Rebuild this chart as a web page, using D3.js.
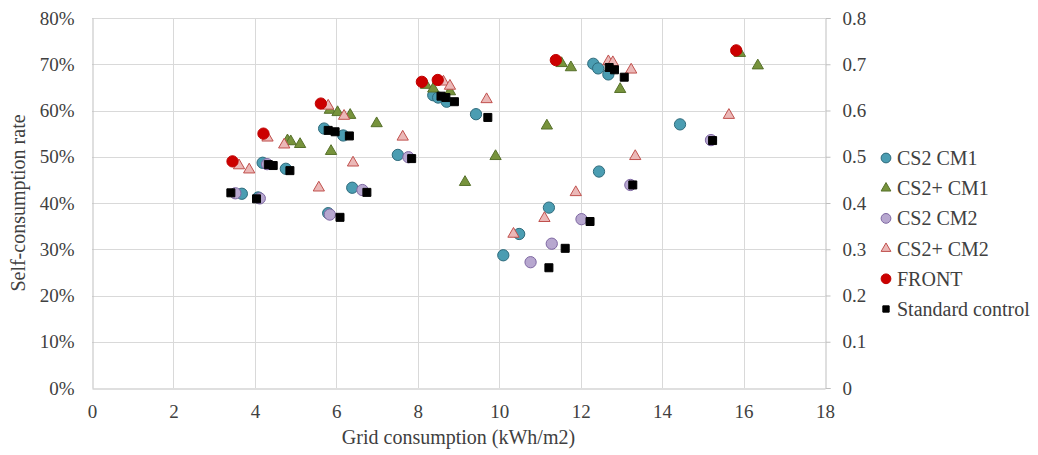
<!DOCTYPE html>
<html lang="en">
<head>
<meta charset="utf-8">
<script src="https://cdn.jsdelivr.net/npm/d3@7/dist/d3.min.js"></script>
<style type="text/css">
body {
	margin: 0;
	background: #fff;
	font-family: "Liberation Serif", "Times New Roman", serif;
}
.grid line {
	stroke: #d9d9d9;
	stroke-width: 1;
}
</style>
</head>
<body>
<script type="text/javascript">

// series values: [grid consumption kWh/m2, self-consumption %]
var cs2cm1 = [[3.68,42.0],[4.08,41.2],[4.19,48.7],[4.76,47.4],[5.70,56.1],[5.80,37.8],[6.17,54.6],
	[6.39,43.3],[7.51,50.4],[8.38,63.3],[8.50,62.8],[8.71,61.9],[9.43,59.2],[10.10,28.7],
	[10.49,33.3],[11.22,39.0],[12.31,70.1],[12.43,69.1],[12.45,46.8],[12.68,67.8],[14.44,57.0]];
var cs2pcm1 = [[4.80,53.5],[4.88,53.3],[5.11,52.7],[5.84,60.1],[5.87,51.2],[6.03,59.6],[6.34,59.0],
	[6.99,57.2],[8.20,65.5],[8.38,64.7],[8.79,64.1],[9.16,44.5],[9.91,50.1],[11.17,56.7],
	[11.53,70.2],[11.76,69.3],[12.97,64.6],[15.91,72.4],[16.35,69.7]];
var cs2cm2 = [[3.52,42.1],[4.12,41.0],[4.30,48.4],[5.84,37.5],[6.64,42.8],[7.77,49.9],[10.77,27.2],
	[11.29,31.2],[12.02,36.5],[13.22,43.9],[15.20,53.6]];
var cs2pcm2 = [[3.61,48.1],[3.86,47.2],[4.31,54.1],[4.72,52.6],[5.57,43.3],[5.80,61.0],[6.19,58.8],
	[6.41,48.7],[7.63,54.3],[8.63,66.2],[8.79,65.3],[9.69,62.4],[10.35,33.3],[11.11,36.7],
	[11.88,42.3],[12.68,70.6],[12.79,70.4],[13.24,68.8],[13.34,50.1],[15.64,59.0]];
var front = [[3.45,49.0],[4.21,55.0],[5.62,61.5],[8.10,66.2],[8.49,66.6],[11.39,70.9],[15.82,73.0]];
var standard = [[3.41,42.2],[4.04,40.9],[4.33,48.3],[4.45,48.1],[4.86,47.0],[5.80,55.7],[5.97,55.4],
	[6.09,36.9],[6.32,54.5],[6.75,42.3],[7.85,49.6],[8.57,63.1],[8.69,62.8],[8.90,61.9],
	[9.72,58.5],[11.22,26.0],[11.62,30.2],[12.23,36.0],[12.70,69.3],[12.83,68.8],[13.07,67.2],
	[13.28,43.9],[15.24,53.5]];

var seriesNames = ["CS2 CM1", "CS2+ CM1", "CS2 CM2", "CS2+ CM2", "FRONT", "Standard control"];
var seriesData = [cs2cm1, cs2pcm1, cs2cm2, cs2pcm2, front, standard];

var xTicks = [0, 2, 4, 6, 8, 10, 12, 14, 16, 18];
var yTicks = [0, 10, 20, 30, 40, 50, 60, 70, 80];
var xTitle = "Grid consumption (kWh/m2)";
var yTitle = "Self-consumption rate";

// marker styles, one per series
var styles = [
	{shape: d3.symbolCircle,   size: 100, fill: "#4b9db2", stroke: "#2e6b7c"},
	{shape: d3.symbolTriangle, size: 55,  fill: "#77933c", stroke: "#56702a"},
	{shape: d3.symbolCircle,   size: 100, fill: "#b7a7cf", stroke: "#7e67a2"},
	{shape: d3.symbolTriangle, size: 55,  fill: "#ebb8b7", stroke: "#c0504d"},
	{shape: d3.symbolCircle,   size: 100, fill: "#cc0000", stroke: "#c00000"},
	{shape: d3.symbolSquare,   size: 64,  fill: "#000000", stroke: "#000000"}
];

var width = 1038;
var height = 455;
var plotLeft = 92, plotRight = 825, plotTop = 18, plotBottom = 388;

var svg = d3.select("body")
	.append("svg")
	.attr("width", width)
	.attr("height", height);

var x = d3.scaleLinear().domain([0, 18]).range([plotLeft, plotRight]);
var y = d3.scaleLinear().domain([0, 80]).range([plotBottom, plotTop]);
var y2 = d3.scaleLinear().domain([0, 0.8]).range([plotBottom, plotTop]);

// gridlines
var grid = svg.append("g").attr("class", "grid");
grid.selectAll("line.v")
	.data(xTicks.slice(1, -1))
	.enter()
	.append("line")
	.attr("x1", function(d) { return Math.round(x(d)) + 0.5; })
	.attr("x2", function(d) { return Math.round(x(d)) + 0.5; })
	.attr("y1", plotTop)
	.attr("y2", plotBottom);
grid.selectAll("line.h")
	.data(yTicks.slice(1))
	.enter()
	.append("line")
	.attr("x1", plotLeft)
	.attr("x2", plotRight)
	.attr("y1", function(d) { return Math.round(y(d)) + 0.5; })
	.attr("y2", function(d) { return Math.round(y(d)) + 0.5; });

// axes
var xAxis = svg.append("g")
	.attr("transform", "translate(0," + (plotBottom + 0.5) + ")")
	.call(d3.axisBottom(x).tickValues(xTicks).tickSize(0).tickPadding(16));
var yAxis = svg.append("g")
	.attr("transform", "translate(" + (plotLeft + 0.5) + ",0)")
	.call(d3.axisLeft(y).tickValues(yTicks).tickSize(0).tickPadding(18)
		.tickFormat(function(d) { return d + "%"; }));
var yAxis2 = svg.append("g")
	.attr("transform", "translate(" + (plotRight + 0.5) + ",0)")
	.call(d3.axisRight(y2).tickValues(yTicks.map(function(d) { return d / 100; })).tickSize(5).tickPadding(12)
		.tickFormat(function(d) { return d === 0 ? "0" : d3.format(".1f")(d); }));

[xAxis, yAxis, yAxis2].forEach(function(a) {
	a.select(".domain").attr("stroke", "#bfbfbf");
	a.selectAll(".tick line").attr("stroke", "#bfbfbf");
	a.selectAll("text")
		.attr("font-family", "Liberation Serif, serif")
		.attr("font-size", "19px")
		.attr("fill", "#404040");
});

// axis titles
svg.append("text")
	.attr("x", (plotLeft + plotRight) / 2)
	.attr("y", 444)
	.attr("text-anchor", "middle")
	.style("font-size", "20px")
	.attr("fill", "#404040")
	.text(xTitle);
svg.append("text")
	.attr("transform", "translate(25," + ((plotTop + plotBottom) / 2) + ") rotate(-90)")
	.attr("text-anchor", "middle")
	.style("font-size", "20px")
	.attr("fill", "#404040")
	.text(yTitle);

// points
seriesData.forEach(function(data, i) {
	var st = styles[i];
	svg.append("g")
		.selectAll("path")
		.data(data)
		.enter()
		.append("path")
		.attr("d", d3.symbol().type(st.shape).size(st.size))
		.attr("transform", function(d) { return "translate(" + x(d[0]) + "," + y(d[1]) + ")"; })
		.attr("fill", st.fill)
		.attr("stroke", st.stroke)
		.attr("stroke-width", 1);
});

// legend
var legend = svg.append("g")
	.selectAll("g")
	.data(seriesNames)
	.enter()
	.append("g")
	.attr("transform", function(d, i) { return "translate(886," + (158 + i * 30.2) + ")"; });

legend.append("path")
	.attr("d", function(d, i) {
		var s = styles[i];
		return d3.symbol().type(s.shape).size(s.shape === d3.symbolSquare ? 40 : s.size * 0.75)();
	})
	.attr("fill", function(d, i) { return styles[i].fill; })
	.attr("stroke", function(d, i) { return styles[i].stroke; });

legend.append("text")
	.attr("x", 11)
	.attr("dy", "0.35em")
	.style("font-size", "20px")
	.attr("fill", "#404040")
	.text(function(d) { return d; });

</script>
</body>
</html>
